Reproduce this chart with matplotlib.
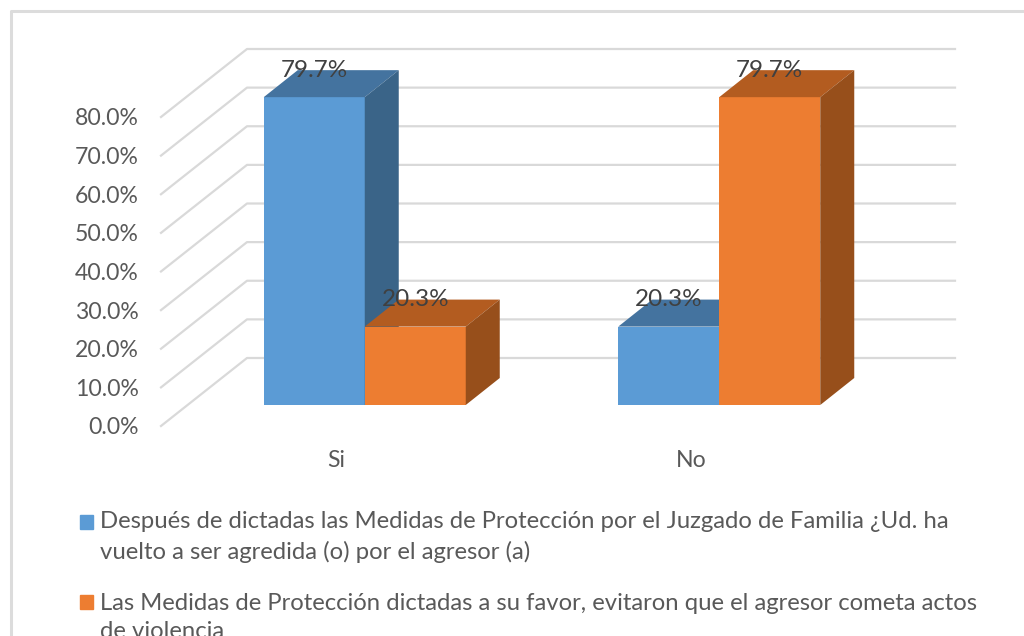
import matplotlib
matplotlib.use('Agg')
import matplotlib.pyplot as plt
from matplotlib.lines import Line2D
from matplotlib.patches import Patch
from matplotlib.transforms import Affine2D

categories = ['Si', 'No']
serie_1 = [79.7, 20.3]
serie_2 = [20.3, 79.7]
labels_1 = ['79.7%', '20.3%']
labels_2 = ['20.3%', '79.7%']
ticks = [0, 10, 20, 30, 40, 50, 60, 70, 80]
tick_labels = ['0.0%', '10.0%', '20.0%', '30.0%', '40.0%', '50.0%', '60.0%', '70.0%', '80.0%']
legend_1 = 'Después de dictadas las Medidas de Protección por el Juzgado de Familia ¿Ud. ha\nvuelto a ser agredida (o) por el agresor (a)'
legend_2 = 'Las Medidas de Protección dictadas a su favor, evitaron que el agresor cometa actos\nde violencia'

BLUE = ('#5b9bd5', '#44739f', '#3a6488')
ORANGE = ('#ed7d31', '#b35c20', '#974f1b')
GRID = '#d9d9d9'
W, H = 1024, 636

# one pixel expressed in data units
PX = 2 / 709
PY = 80 / 309
BAR_W = 101 * PX


def bar3d(ax, x, v, colors):
	# front face sits part way into the floor, 27px tall depth
	x0, x1 = x, x + BAR_W
	dx, dy = 26.5 * PX, 21 * PY
	ddx, ddy = 34 * PX, 27 * PY
	ax.bar(x0 + dx, v, BAR_W, bottom=dy, align='edge', color=colors[0], zorder=3, clip_on=False)
	ax.fill([x0 + dx, x1 + dx, x1 + dx + ddx, x0 + dx + ddx], [v + dy, v + dy, v + dy + ddy, v + dy + ddy],
		color=colors[1], lw=0, zorder=3, clip_on=False)
	ax.fill([x1 + dx, x1 + dx + ddx, x1 + dx + ddx, x1 + dx], [dy, dy + ddy, v + dy + ddy, v + dy],
		color=colors[2], lw=0, zorder=3, clip_on=False)


def main():
	plt.rcParams['font.family'] = ['Lato', 'DejaVu Sans']
	fig = plt.figure(figsize=(W / 100, H / 100), dpi=100)
	ax = fig.add_axes([161 / W, 1 - 426 / H, 709 / W, 309 / H])
	ax.set_xlim(-0.5, 1.5)
	ax.set_ylim(0, 80)
	ax.patch.set_visible(False)
	for s in ax.spines.values():
		s.set_visible(False)

	# chart frame, only top and left show in the crop
	fig.add_artist(Line2D([10.5 / W, 10.5 / W, 1], [0, 1 - 10.5 / H, 1 - 10.5 / H], color='#dcdcdc', lw=2.2))

	# floor/wall gridlines
	for t in ticks:
		ax.plot([-0.5, -0.5 + 86 * PX, -0.5 + 86 * PX + 708 * PX], [t, t + 68 * PY, t + 68 * PY],
			color=GRID, lw=1.6, zorder=1, clip_on=False)

	for i in range(len(categories)):
		left = i - BAR_W
		bar3d(ax, left, serie_1[i], BLUE)
		bar3d(ax, i, serie_2[i], ORANGE)

	for i in range(len(categories)):
		for x, v, txt in [(i - BAR_W / 2, serie_1[i], labels_1[i]), (i + BAR_W / 2, serie_2[i], labels_2[i])]:
			ax.text(x + 26.5 * PX, v + 48 * PY, txt, ha='center', va='center', fontsize=17.5, color='#404040', zorder=5)

	ax.set_yticks(ticks, tick_labels)
	ax.set_xticks(range(len(categories)), categories)
	ax.tick_params(axis='y', length=0, pad=16, labelsize=16.6, labelcolor='#595959')
	ax.tick_params(axis='x', length=0, pad=17, labelsize=16.6, labelcolor='#595959')
	for lab in ax.get_xticklabels():
		lab.set_transform(lab.get_transform() + Affine2D().translate(-2, 0))

	handles = [Patch(color=BLUE[0]), Patch(color=ORANGE[0])]
	leg = fig.legend(handles, [legend_1, legend_2], loc='upper left', bbox_to_anchor=(80 / W, 1 - 511.5 / H),
		frameon=False, fontsize=17.2, labelcolor='#595959', handlelength=0.55, handleheight=0.55,
		handletextpad=0.27, labelspacing=1.25, borderpad=0, borderaxespad=0)
	for t in leg.get_texts():
		t.set_linespacing(1.45)
	# square goes next to the first line, legend would centre it on both
	for h in leg.legend_handles:
		h.set_y(h.get_y() + 11)

	fig.savefig('out.png', dpi=100)


if __name__ == '__main__':
	main()
